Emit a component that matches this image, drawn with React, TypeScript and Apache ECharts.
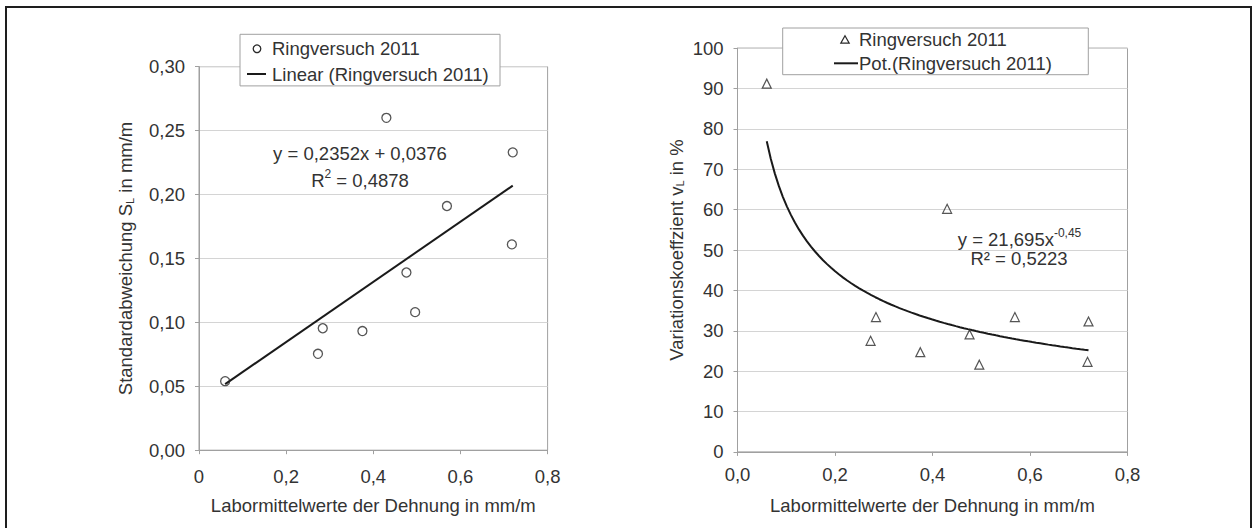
import React, { useEffect, useRef } from "react";
import * as echarts from "echarts";

// Laboratory mean strain values (mm/m) of the round robin test 2011
const strainMeans = [0.06, 0.273, 0.284, 0.375, 0.43, 0.476, 0.496, 0.569, 0.72, 0.718];
// Standard deviation S_L (mm/m) per laboratory mean
const stdDevs = [0.054, 0.0754, 0.0954, 0.0932, 0.26, 0.139, 0.108, 0.191, 0.233, 0.161];
// Coefficient of variation v_L (%) per laboratory mean
const variationCoeffs = [91.2, 27.5, 33.4, 24.7, 60.2, 29.1, 21.6, 33.4, 32.3, 22.3];

// Trend line coefficients as printed next to the curves
const linearSlope = 0.2352;
const linearIntercept = 0.0376;
const powerFactor = 21.695;
const powerExponent = -0.45;

const seriesName = "Ringversuch 2011";
const linearName = "Linear (Ringversuch 2011)";
const powerName = "Pot.(Ringversuch 2011)";
const xAxisTitle = "Labormittelwerte der Dehnung in mm/m";

const FONT = "'Liberation Sans', Arial, Helvetica, sans-serif";
const TEXT = "#333333";
const FS = 18.5;

const comma = (v: number, d: number) => v.toFixed(d).replace(".", ",");

export default function App() {
  const ref = useRef<HTMLDivElement>(null);

  useEffect(() => {
    if (!ref.current) return;
    const chart = echarts.init(ref.current, undefined, { renderer: "svg" });

    const xMin = Math.min(...strainMeans);
    const xMax = Math.max(...strainMeans);
    const linearLine = [xMin, xMax].map((x) => [x, linearSlope * x + linearIntercept]);
    const powerCurve: number[][] = [];
    const steps = 80;
    for (let i = 0; i <= steps; i++) {
      const x = xMin + ((xMax - xMin) * i) / steps;
      powerCurve.push([x, powerFactor * Math.pow(x, powerExponent)]);
    }

    const axisLine = { show: true, lineStyle: { color: "#a0a0a0", width: 1 } };
    const axisTick = { show: true, length: 4, inside: false, lineStyle: { color: "#a0a0a0" } };
    const splitLine = { show: true, lineStyle: { color: "#d4d4d4", width: 1 } };
    const label = { color: TEXT, fontFamily: FONT, fontSize: FS };
    const nameStyle = {
      color: TEXT,
      fontFamily: FONT,
      fontSize: FS,
      rich: {
        sub: { fontFamily: FONT, fontSize: 11, color: TEXT, verticalAlign: "bottom", lineHeight: 12, padding: [0, 0, 0, 0] },
      },
    };

    const text = (x: number, y: number, t: string, extra: any = {}) => ({
      type: "text",
      x,
      y,
      z: 100,
      style: {
        text: t,
        fill: TEXT,
        font: `${FS}px ${FONT}`,
        verticalAlign: "middle",
        align: "left",
        ...extra,
      },
    });

    const richNote = {
      base: { fontFamily: FONT, fontSize: FS, fill: TEXT, color: TEXT, lineHeight: 22, verticalAlign: "bottom" },
      sup: { fontFamily: FONT, fontSize: 12, fill: TEXT, color: TEXT, lineHeight: 22, verticalAlign: "top", padding: [0, 0, 0, 0] },
    };

    const option: any = {
      animation: false,
      backgroundColor: "#ffffff",
      grid: [
        { left: 199, top: 66.7, width: 348.6, height: 383.5, show: true, borderColor: "#a0a0a0", borderWidth: 1, backgroundColor: "transparent" },
        { left: 737.5, top: 48.1, width: 390, height: 403.8, show: true, borderColor: "#a0a0a0", borderWidth: 1, backgroundColor: "transparent" },
      ],
      xAxis: [
        {
          gridIndex: 0,
          type: "value",
          min: 0,
          max: 0.8,
          interval: 0.2,
          axisLine,
          axisTick,
          splitLine: { show: false },
          axisLabel: { ...label, margin: 17, formatter: (v: number) => (v === 0 ? "0" : comma(v, 1)) },
          name: xAxisTitle,
          nameLocation: "middle",
          nameGap: 46,
          nameTextStyle: { color: TEXT, fontFamily: FONT, fontSize: FS },
        },
        {
          gridIndex: 1,
          type: "value",
          min: 0,
          max: 0.8,
          interval: 0.2,
          axisLine,
          axisTick,
          splitLine: { show: false },
          axisLabel: { ...label, margin: 13, formatter: (v: number) => comma(v, 1) },
          name: xAxisTitle,
          nameLocation: "middle",
          nameGap: 44,
          nameTextStyle: { color: TEXT, fontFamily: FONT, fontSize: FS },
        },
      ],
      yAxis: [
        {
          gridIndex: 0,
          type: "value",
          min: 0,
          max: 0.3,
          interval: 0.05,
          axisLine,
          axisTick,
          splitLine,
          axisLabel: { ...label, margin: 14, formatter: (v: number) => comma(v, 2) },
          name: "Standardabweichung S{sub|L} in mm/m",
          nameLocation: "middle",
          nameGap: 64,
          nameTextStyle: nameStyle,
        },
        {
          gridIndex: 1,
          type: "value",
          min: 0,
          max: 100,
          interval: 10,
          axisLine,
          axisTick,
          splitLine,
          axisLabel: { ...label, margin: 14 },
          name: "Variationskoeffzient v{sub|L} in %",
          nameLocation: "middle",
          nameGap: 52,
          nameTextStyle: nameStyle,
        },
      ],
      series: [
        {
          name: linearName,
          type: "line",
          xAxisIndex: 0,
          yAxisIndex: 0,
          data: linearLine,
          showSymbol: false,
          lineStyle: { color: "#1a1a1a", width: 2 },
          z: 3,
        },
        {
          name: seriesName,
          type: "scatter",
          xAxisIndex: 0,
          yAxisIndex: 0,
          data: strainMeans.map((x, i) => [x, stdDevs[i]]),
          symbol: "circle",
          symbolSize: 9,
          itemStyle: { color: "rgba(255,255,255,0)", borderColor: "#2a2a2a", borderWidth: 1.3 },
          z: 4,
        },
        {
          name: powerName,
          type: "line",
          xAxisIndex: 1,
          yAxisIndex: 1,
          data: powerCurve,
          showSymbol: false,
          smooth: false,
          lineStyle: { color: "#1a1a1a", width: 2 },
          z: 3,
        },
        {
          name: seriesName,
          type: "scatter",
          xAxisIndex: 1,
          yAxisIndex: 1,
          data: strainMeans.map((x, i) => [x, variationCoeffs[i]]),
          symbol: "triangle",
          symbolSize: 9,
          itemStyle: { color: "rgba(255,255,255,0)", borderColor: "#2a2a2a", borderWidth: 1.2 },
          z: 4,
        },
      ],
      graphic: [
        // outer frame
        {
          type: "rect",
          shape: { x: 6, y: 7, width: 1245, height: 540 },
          style: { fill: "none", stroke: "#1e1e1e", lineWidth: 2 },
          z: 100,
        },
        // left legend
        {
          type: "rect",
          shape: { x: 240, y: 34.3, width: 260, height: 51.6 },
          style: { fill: "#ffffff", stroke: "#a0a0a0", lineWidth: 1 },
          z: 90,
        },
        {
          type: "circle",
          shape: { cx: 257, cy: 48.8, r: 3.8 },
          style: { fill: "none", stroke: "#2a2a2a", lineWidth: 1.3 },
          z: 100,
        },
        text(272, 48.8, seriesName),
        {
          type: "line",
          shape: { x1: 247, y1: 74, x2: 266, y2: 74 },
          style: { stroke: "#1a1a1a", lineWidth: 2 },
          z: 100,
        },
        text(272, 74, linearName),
        // right legend
        {
          type: "rect",
          shape: { x: 782.7, y: 28, width: 305.6, height: 46.7 },
          style: { fill: "#ffffff", stroke: "#a0a0a0", lineWidth: 1 },
          z: 90,
        },
        {
          type: "polygon",
          shape: { points: [[845, 35.8], [849.2, 43.2], [840.8, 43.2]] },
          style: { fill: "none", stroke: "#2a2a2a", lineWidth: 1.2 },
          z: 100,
        },
        text(859, 39.7, seriesName),
        {
          type: "line",
          shape: { x1: 834, y1: 63.3, x2: 858, y2: 63.3 },
          style: { stroke: "#1a1a1a", lineWidth: 2 },
          z: 100,
        },
        text(859, 63.3, powerName),
        // regression notes
        text(360, 153.2, "y = 0,2352x + 0,0376", { align: "center" }),
        {
          type: "text",
          x: 360,
          y: 179,
          z: 100,
          style: {
            text: "{base|R}{sup|2}{base| = 0,4878}",
            align: "center",
            verticalAlign: "middle",
            rich: richNote,
          },
        },
        {
          type: "text",
          x: 1019.5,
          y: 238.4,
          z: 100,
          style: {
            text: "{base|y = 21,695x}{sup|-0,45}",
            align: "center",
            verticalAlign: "middle",
            rich: richNote,
          },
        },
        text(1019, 258.6, "R² = 0,5223", { align: "center" }),
      ],
    };

    chart.setOption(option);
    return () => chart.dispose();
  }, []);

  return (
    <div
      ref={ref}
      style={{ position: "absolute", left: 0, top: 0, width: 1253, height: 528, background: "#fff" }}
    />
  );
}
